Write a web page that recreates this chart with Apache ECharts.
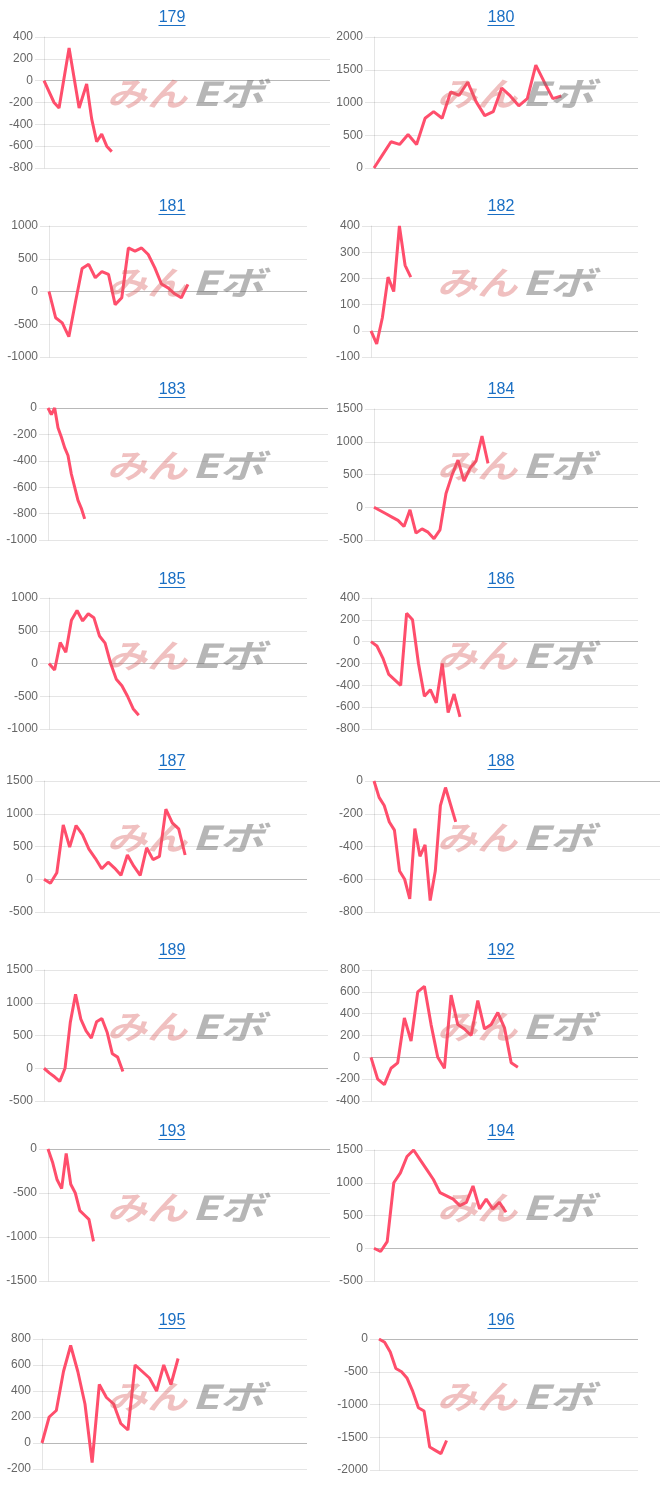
<!DOCTYPE html>
<html>
<head>
<meta charset="utf-8">
<script src="https://cdn.jsdelivr.net/npm/echarts@6/dist/echarts.min.js"></script>
<style>
html,body{margin:0;padding:0;background:#fff;}
#c{width:666px;height:1488px;}
</style>
</head>
<body>
<div id="c"></div>
<script>
// ---- data ----
const titles = ['179','180','181','182','183','184','185','186','187','188','189','192','193','194','195','196'];
const v179 = [0,-200,-250,300,-250,-30,-350,-560,-490,-600,-650];
const x179 = [0,4,6,10,14,17,19,21,23,25,27];   // race-day slot of each 179 point (uneven dates)
const v180 = [0,200,400,360,510,360,760,860,760,1160,1110,1310,1010,800,860,1220,1100,950,1060,1570,1310,1060,1100];
const v181 = [0,-400,-480,-690,-160,350,415,210,305,260,-200,-95,665,615,665,565,360,115,55,-35,-95,110];
const v182 = [0,-50,50,205,150,400,250,205];
const v183 = [0,-50,0,-150,-220,-300,-360,-500,-600,-700,-760,-840];
const v184 = [0,-50,-100,-150,-200,-295,-40,-395,-330,-380,-480,-345,210,490,720,400,595,705,1085,670];
const v185 = [0,-100,320,170,660,810,650,760,700,420,310,0,-240,-340,-500,-690,-790];
const v186 = [0,-40,-150,-300,-350,-400,260,200,-200,-500,-440,-560,-200,-650,-480,-690];
const v187 = [0,-60,100,830,490,820,680,460,320,160,260,170,60,370,200,60,480,300,350,1070,860,770,370];
const v188 = [0,-100,-150,-250,-300,-550,-600,-720,-290,-460,-390,-730,-550,-150,-40,-145,-250];
const v189 = [0,-70,-130,-200,0,700,1130,750,570,460,710,760,550,220,170,-50];
const v192 = [0,-200,-250,-100,-50,360,150,600,650,300,0,-100,570,300,260,200,520,260,300,410,270,-50,-90];
const v193 = [0,-150,-350,-450,-50,-400,-500,-700,-750,-800,-1050];
const v194 = [0,-50,100,1000,1150,1400,1500,1350,1200,1050,850,800,750,650,700,950,600,750,600,700,550];
const v195 = [0,200,250,550,750,550,300,-150,450,350,300,150,100,600,550,500,400,600,450,650];
const v196 = [0,-50,-200,-450,-500,-600,-800,-1050,-1100,-1650,-1700,-1750,-1550];
const seriesValues = [v179,v180,v181,v182,v183,v184,v185,v186,v187,v188,v189,v192,v193,v194,v195,v196];
const seriesSlots = {0: x179};
const xSlots = [115,32,40,48,85,45,47,46,42,57,55,41,63,41,38,47];
const yMin  = [-800,0,-1000,-100,-1000,-500,-1000,-800,-500,-800,-500,-400,-1500,-500,-200,-2000];
const yMax  = [400,2000,1000,400,0,1500,1000,400,1500,0,1500,800,0,1500,800,0];
const yStep = [200,500,500,100,200,500,500,200,500,200,500,200,500,500,200,500];

// ---- layout (pixels) ----
const plotBox = [
  [44,37,330,168],[374,37,638,168],
  [49,226,307,357],[371,226,638,357],
  [48,408,328,540],[374,409,638,540],
  [49,598,307,729],[371,598,638,729],
  [44,781,307,912],[374,781,660,912],
  [44,970,328,1101],[371,970,638,1101],
  [48,1149,330,1281],[374,1150,638,1281],
  [42,1339,307,1469],[379,1339,638,1470]
];
const titleY = [18,207,390,580,762,951,1132,1321];

const FONT = '"Liberation Sans", Arial, Helvetica, sans-serif';
const LINE = 'rgb(255,78,108)';
const grids = [], xAxes = [], yAxes = [], series = [], graphics = [];

titles.forEach((t, i) => {
  const [l, tp, r, b] = plotBox[i];
  const col = i % 2, row = Math.floor(i / 2);
  grids.push({left: l, top: tp, width: r - l, height: b - tp, containLabel: false});
  const cats = Array.from({length: xSlots[i]}, (_, k) => String(k + 1));
  xAxes.push({
    type: 'category', gridIndex: i, data: cats, boundaryGap: false,
    axisLine: {show: false}, axisTick: {show: false}, axisLabel: {show: false}, splitLine: {show: false}
  });
  const nTicks = Math.round((yMax[i] - yMin[i]) / yStep[i]) + 1;
  const zeroIdx = Math.round((0 - yMin[i]) / yStep[i]);
  const colors = Array.from({length: nTicks}, (_, k) => k === zeroIdx ? 'rgba(0,0,0,0.28)' : 'rgba(0,0,0,0.1)');
  yAxes.push({
    type: 'value', gridIndex: i, min: yMin[i], max: yMax[i], interval: yStep[i],
    axisLine: {show: true, lineStyle: {color: 'rgba(0,0,0,0.1)', width: 1}},
    axisTick: {show: true, length: 9, lineStyle: {color: 'rgba(0,0,0,0.1)'}},
    axisLabel: {color: '#666', fontSize: 12, fontFamily: FONT, margin: 11, formatter: v => String(v)},
    splitLine: {show: true, lineStyle: {color: colors, width: 1}}
  });
  const vals = seriesValues[i];
  const slots = seriesSlots[i];
  const data = slots ? vals.map((v, k) => [slots[k], v]) : vals;
  series.push({
    type: 'line', xAxisIndex: i, yAxisIndex: i, data: data,
    symbol: 'none', smooth: false, lineStyle: {color: LINE, width: 3}, z: 3,
    animation: false
  });
  const cx = col === 0 ? 172 : 501;
  const ty = titleY[row];
  graphics.push({type: 'text', x: cx, y: ty, z: 10, style: {text: t, fill: '#1a6fc4', font: '16px ' + FONT, textAlign: 'center', textVerticalAlign: 'middle'}});
  graphics.push({type: 'line', z: 10, shape: {x1: cx - 13.5, y1: ty + 7.5, x2: cx + 13.5, y2: ty + 7.5}, style: {stroke: '#1a6fc4', lineWidth: 1}});
  const wx = col === 0 ? 0 : 330;
  const wy = ty + 75;
  graphics.push({type: 'text', x: 147 + wx, y: wy, scaleX: 1.22, z: 20, style: {text: 'みん', fill: 'rgba(215,90,90,0.38)', font: 'italic bold 33px "Noto Sans CJK JP", sans-serif', textAlign: 'center', textVerticalAlign: 'middle'}});
  graphics.push({type: 'text', x: 228 + wx, y: wy, scaleX: 1.35, z: 20, style: {text: 'Eボ', fill: 'rgba(110,110,110,0.5)', font: 'italic bold 33px "Noto Sans CJK JP", sans-serif', textAlign: 'center', textVerticalAlign: 'middle'}});
});

const chart = echarts.init(document.getElementById('c'), null, {renderer: 'canvas'});
chart.setOption({
  animation: false,
  grid: grids, xAxis: xAxes, yAxis: yAxes, series: series,
  graphic: graphics
});
</script>
</body>
</html>
